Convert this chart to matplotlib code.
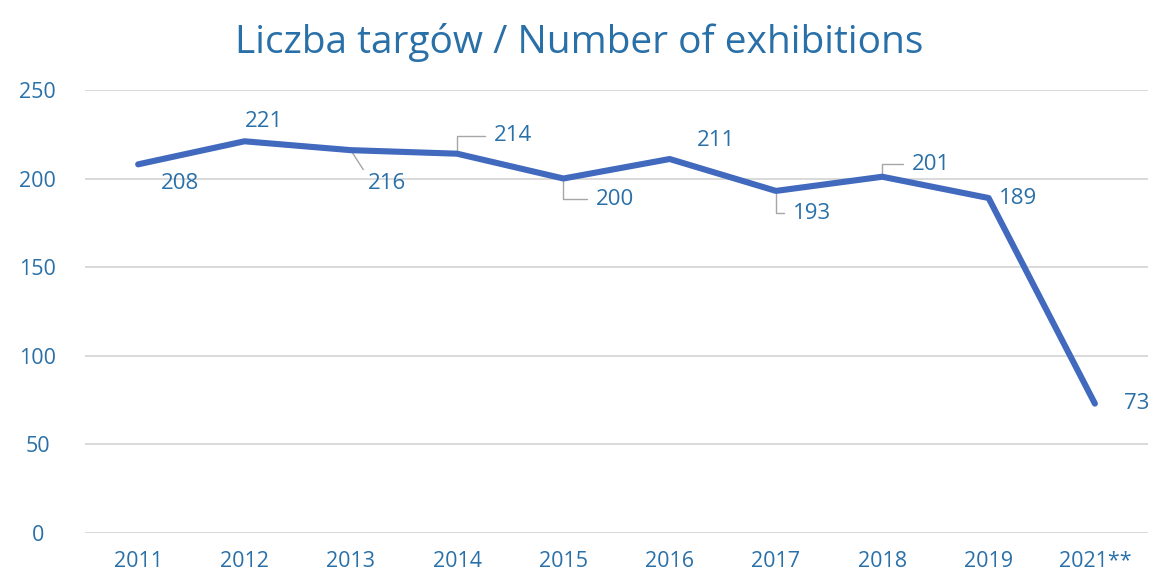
import matplotlib
matplotlib.use("Agg")
import matplotlib.pyplot as plt

plt.rcParams['font.family'] = ['Open Sans', 'DejaVu Sans']

years = ["2011", "2012", "2013", "2014", "2015", "2016", "2017", "2018", "2019", "2021**"]
exhibitions = [208, 221, 216, 214, 200, 211, 193, 201, 189, 73]

# label offsets in points (dx, dy) and the kind of leader line drawn
label_offsets = [(30, -14), (14, 14), (26, -24), (40, 13), (37, -15),
                 (33, 13), (26, -16), (35, 9), (21, 0), (30, 0)]
leader = [None, None, "diag", "up", "down", None, "down", "up", None, None]

blue_text = "#2a70a8"
line_col = "#4169bd"

fig = plt.figure(figsize=(11.58, 5.74), dpi=100)
ax = fig.add_axes([0.0734, 0.0714, 0.918, 0.772])

x = list(range(len(years)))
ax.plot(x, exhibitions, color=line_col, lw=4.4, solid_joinstyle="round",
        solid_capstyle="round", zorder=3)

ax.set_xlim(-0.5, len(years) - 0.5)
ax.set_ylim(0, 250)
ax.set_yticks([0, 50, 100, 150, 200, 250])
ax.set_xticks(x)
ax.set_xticklabels(years)
ax.grid(axis="y", color="#d9d9d9", lw=1.4, zorder=0)
ax.tick_params(axis="both", length=0, labelsize=15.5, labelcolor=blue_text)
ax.tick_params(axis="y", pad=34)
for t in ax.get_yticklabels():
    t.set_horizontalalignment("center")
ax.tick_params(axis="x", pad=13)
for s in ax.spines.values():
    s.set_visible(False)

for i, (v, (dx, dy), ld) in enumerate(zip(exhibitions, label_offsets, leader)):
    ax.annotate(str(v), (i, v), xytext=(dx, dy), textcoords="offset points",
                ha="center", va="center", fontsize=16, color=blue_text, zorder=4)
    if ld == "diag":
        ax.annotate("", (i, v), xytext=(dx - 17, dy + 10), textcoords="offset points",
                    arrowprops=dict(arrowstyle="-", color="#a6a6a6", lw=1,
                                    shrinkA=0, shrinkB=2), zorder=2)
    elif ld in ("up", "down"):
        ax.annotate("", (i, v), xytext=(dx - 20, dy), textcoords="offset points",
                    arrowprops=dict(arrowstyle="-", color="#a6a6a6", lw=1,
                                    shrinkA=0, shrinkB=2,
                                    connectionstyle="angle,angleA=0,angleB=90,rad=0"),
                    zorder=2)

fig.text(0.5, 0.926, "Liczba targów / Number of exhibitions", ha="center",
         va="center", fontsize=28, color=blue_text)

fig.savefig("out.png", dpi=100)
